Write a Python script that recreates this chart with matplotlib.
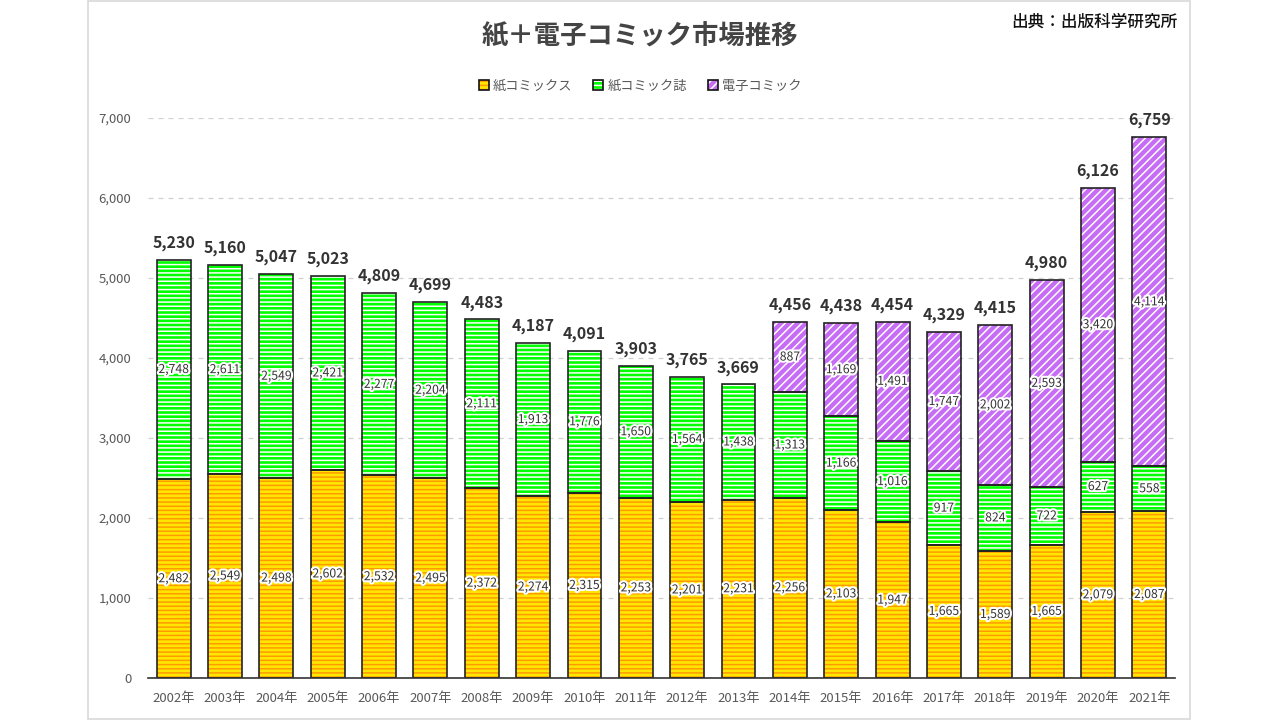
import matplotlib
matplotlib.use("Agg")
import matplotlib.pyplot as plt
import matplotlib.patheffects as pe
from matplotlib.patches import Patch, Rectangle
from matplotlib.legend_handler import HandlerTuple
from matplotlib.ticker import FuncFormatter, MultipleLocator

plt.rcParams["font.family"] = ["Noto Sans CJK JP", "DejaVu Sans"]
plt.rcParams["hatch.linewidth"] = 1.1

years = [f"{y}年" for y in range(2002, 2022)]
paper_comics = [2482, 2549, 2498, 2602, 2532, 2495, 2372, 2274, 2315, 2253,
                2201, 2231, 2256, 2103, 1947, 1665, 1589, 1665, 2079, 2087]
paper_magazines = [2748, 2611, 2549, 2421, 2277, 2204, 2111, 1913, 1776, 1650,
                   1564, 1438, 1313, 1166, 1016, 917, 824, 722, 627, 558]
digital_comics = [0, 0, 0, 0, 0, 0, 0, 0, 0, 0,
                  0, 0, 887, 1169, 1491, 1747, 2002, 2593, 3420, 4114]

series = [
    ("紙コミックス", paper_comics, "#ffe600", "#ff9a00", "----"),
    ("紙コミック誌", paper_magazines, "#00ff00", "#ffffff", "----"),
    ("電子コミック", digital_comics, "#c66cf5", "#ffffff", "////"),
]

fig = plt.figure(figsize=(12.8, 7.2), dpi=100)
ax = fig.add_axes([148 / 1280, 1 - 678 / 720, 1027 / 1280, 560 / 720])

# light frame around the chart area
fig.patches.append(Rectangle((88 / 1280, 1 / 720), 1102 / 1280, 718 / 720,
                             transform=fig.transFigure, fill=False,
                             edgecolor="#d9d9d9", linewidth=1.2))

x = list(range(len(years)))
width = 0.66
bottom = [0] * len(years)
stroke = [pe.withStroke(linewidth=3, foreground="white")]
handles = []

for name, vals, fc, hc, hatch in series:
    xs = [i for i in x if vals[i] > 0]
    vs = [vals[i] for i in xs]
    bs = [bottom[i] for i in xs]
    ax.bar(xs, vs, width, bottom=bs, color=fc, edgecolor=hc, hatch=hatch,
           linewidth=0, zorder=2)
    ax.bar(xs, vs, width, bottom=bs, facecolor="none", edgecolor="#222222",
           linewidth=1.2, zorder=3)
    for i, v, b in zip(xs, vs, bs):
        ax.text(i, b + v / 2, f"{v:,}", ha="center", va="center", fontsize=8.8,
                color="#333333", path_effects=stroke, zorder=4)
    for i in xs:
        bottom[i] += vals[i]
    handles.append((Patch(facecolor=fc, edgecolor=hc, hatch=hatch, linewidth=0),
                    Patch(facecolor="none", edgecolor="#111111", linewidth=1.2)))

for i, total in enumerate(bottom):
    ax.text(i, total + 110, f"{total:,}", ha="center", va="bottom", fontsize=11.5,
            fontweight="bold", color="#333333")

ax.set_xlim(-0.5, len(years) - 0.5)
ax.set_ylim(0, 7000)
ax.yaxis.set_major_locator(MultipleLocator(1000))
ax.yaxis.set_major_formatter(FuncFormatter(lambda v, p: f"{int(v):,}"))
ax.set_xticks(x)
ax.set_xticklabels(years)
ax.tick_params(axis="both", length=0, labelsize=9.5, labelcolor="#595959")
ax.tick_params(axis="x", pad=10)
ax.tick_params(axis="y", pad=12)
ax.grid(axis="y", color="#d0d0d0", linestyle=(0, (4, 4)), linewidth=0.9, zorder=0)
for side in ["left", "right", "top"]:
    ax.spines[side].set_visible(False)
ax.spines["bottom"].set_color("#333333")
ax.spines["bottom"].set_linewidth(1.2)
ax.spines["bottom"].set_zorder(5)

fig.text(0.5, 1 - 37 / 720, "紙＋電子コミック市場推移", ha="center", va="center",
         fontsize=19, fontweight="bold", color="#444444")
fig.text(1177 / 1280, 1 - 22 / 720, "出典：出版科学研究所", ha="right", va="center",
         fontsize=12, fontweight="medium", color="#111111")

fig.legend(handles, [s[0] for s in series], loc="center",
           bbox_to_anchor=(0.5, 1 - 86 / 720), ncol=3, frameon=False,
           fontsize=9.5, labelcolor="#595959", handlelength=0.75,
           handleheight=0.75, handletextpad=0.3, columnspacing=1.6,
           handler_map={tuple: HandlerTuple(ndivide=1, pad=0)})

fig.savefig("out.png", dpi=100)
